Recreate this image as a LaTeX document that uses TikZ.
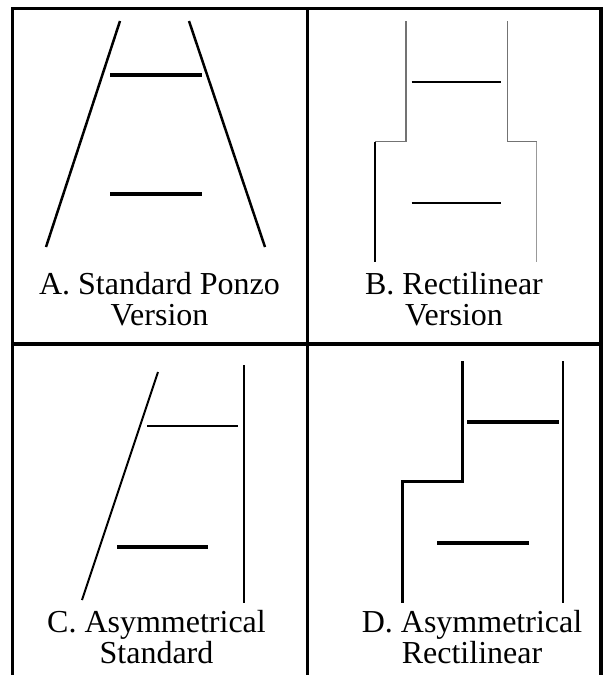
\documentclass[tikz,border=0pt]{standalone}
\usepackage{fontspec}
\setmainfont{Liberation Serif}
\begin{document}
\begin{tikzpicture}[x=1pt,y=-1pt,
  frame/.style={line width=3.5pt,black},
  thinline/.style={line width=1.2pt},
  label/.style={align=center,anchor=base,inner sep=0pt,
    font=\fontsize{32}{31}\selectfont}]
\useasboundingbox (0,0) rectangle (606,675);
% frame
\draw[frame] (12.5,675) -- (12.5,8.5) -- (601,8.5) -- (601,675);
\draw[frame] (307.5,8.5) -- (307.5,675);
\draw[frame] (12.5,344) -- (601,344);
% Panel A
\draw[line width=2.5pt] (120,21) -- (46,247);
\draw[line width=2.5pt] (189,21) -- (265,247);
\draw[line width=4.5pt] (110,75) -- (202,75);
\draw[line width=4.5pt] (110,194) -- (202,194);
\node[label] (la) at (159.5,325) {A. Standard Ponzo\\Version};
% Panel B
\draw[thinline,black!55] (406,21) -- (406,141.7) -- (375,141.7);
\draw[thinline,black!55] (507.3,21) -- (507.3,141.7) -- (536.7,141.7);
\draw[line width=1.6pt] (375,141.7) -- (375,262);
\draw[thinline,black!40] (536.7,141.7) -- (536.7,262);
\draw[line width=2pt] (411.7,82.3) -- (501,82.3);
\draw[line width=2pt] (411.7,203.3) -- (501,203.3);
\node[label] (lb) at (454,325) {B. Rectilinear\\Version};
% Panel C
\draw[line width=2pt] (158,372) -- (82,600);
\draw[thinline] (244,365) -- (244,603);
\draw[line width=2.5pt] (147,426) -- (238,426);
\draw[line width=3.5pt] (117,547) -- (208,547);
\node[label] (lc) at (156.5,663) {C. Asymmetrical\\Standard};
% Panel D
\draw[line width=2.5pt] (462.3,361) -- (462.3,481.7) -- (402.3,481.7) -- (402.3,603);
\draw[line width=2.5pt] (563,361) -- (563,603);
\draw[line width=4pt] (467.3,422.3) -- (558.7,422.3);
\draw[line width=4pt] (437.3,543.3) -- (528.7,543.3);
\node[label] (ld) at (472,663) {D. Asymmetrical\\Rectilinear};
\end{tikzpicture}
\end{document}
